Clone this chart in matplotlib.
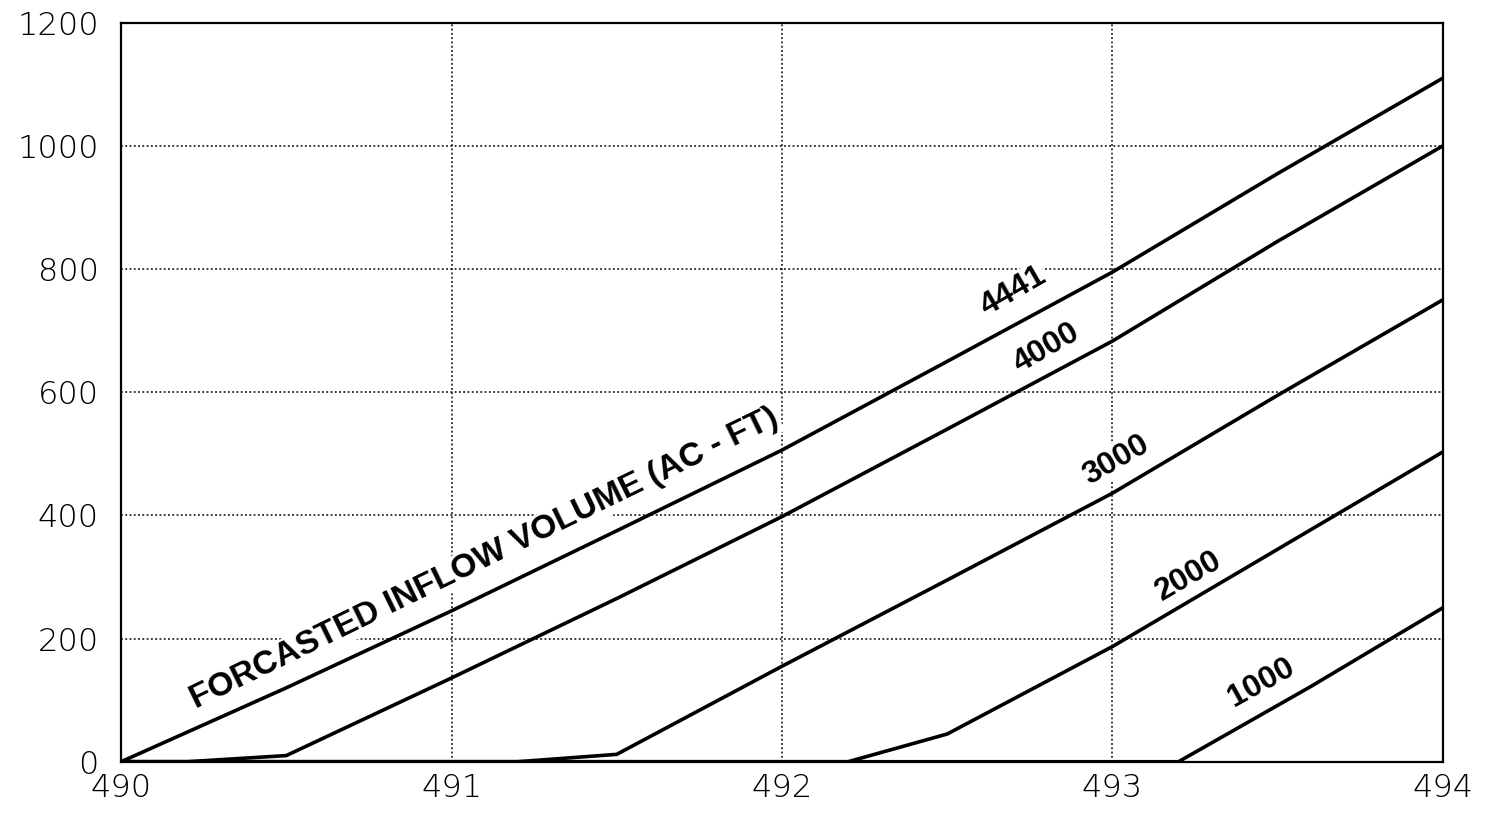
import matplotlib as mpl
import matplotlib.pyplot as plt
import numpy as np

mpl.use("Agg")
plt.rcParams["font.family"] = "DejaVu Sans"

# elevation (ft) vs release, one curve per forecasted inflow volume
x_4441 = [490, 490.5, 491, 491.5, 492, 492.5, 493, 493.5, 494]
y_4441 = [0, 120, 245, 375, 506, 650, 795, 955, 1110]

x_4000 = [490, 490.2, 490.5, 491, 491.5, 492, 492.5, 493, 493.5, 494]
y_4000 = [0, 0, 10, 136, 265, 398, 540, 683, 845, 1000]

x_3000 = [490, 491.2, 491.5, 492, 492.5, 493, 493.5, 494]
y_3000 = [0, 0, 12, 155, 295, 436, 595, 750]

x_2000 = [490, 492.2, 492.5, 493, 493.5, 494]
y_2000 = [0, 0, 45, 187, 345, 503]

x_1000 = [490, 493.2, 493.6, 494]
y_1000 = [0, 0, 122, 250]

curves = [(x_4441, y_4441), (x_4000, y_4000), (x_3000, y_3000),
          (x_2000, y_2000), (x_1000, y_1000)]

# label text, position, angle
labels = [("4441", 492.70, 764, 30),
          ("4000", 492.80, 672, 30),
          ("3000", 493.01, 490, 30),
          ("2000", 493.23, 302, 30),
          ("1000", 493.45, 128, 29)]
title_lbl = ("FORCASTED INFLOW VOLUME (AC - FT)", 491.10, 330, 26)

xticks = [490, 491, 492, 493, 494]
yticks = [0, 200, 400, 600, 800, 1000, 1200]

fig = plt.figure(figsize=(14.89, 8.16), dpi=100)
ax = fig.add_axes([0.0813, 0.0665, 0.8877, 0.9057])

for xs, ys in curves:
    ax.plot(xs, ys, color="black", lw=2.6, zorder=3, solid_joinstyle="miter")

box = dict(facecolor="white", edgecolor="none", pad=1)
for txt, x, y, rot in labels:
    ax.text(x, y, txt, rotation=rot, ha="center", va="center", fontsize=23,
            fontweight="bold", family="Liberation Sans", rotation_mode="anchor",
            bbox=box, zorder=2)
txt, x, y, rot = title_lbl
ax.text(x, y, txt, rotation=rot, ha="center", va="center", fontsize=24,
        fontweight="bold", family="Liberation Sans", rotation_mode="anchor",
        bbox=box, zorder=2)

ax.set_xlim(490, 494)
ax.set_ylim(0, 1200)
ax.set_xticks(xticks)
ax.set_yticks(yticks)
ax.tick_params(length=0, labelsize=23)
for lab in ax.get_xticklabels() + ax.get_yticklabels():
    lab.set_fontweight("light")
ax.tick_params(axis="y", pad=16)
ax.tick_params(axis="x", pad=8)
ax.set_axisbelow(True)
ax.grid(True, color="black", lw=1.1, linestyle=(0, (1.2, 1.6)))
for s in ax.spines.values():
    s.set_linewidth(1.6)

fig.savefig("out.png", dpi=100)
plt.close(fig)
